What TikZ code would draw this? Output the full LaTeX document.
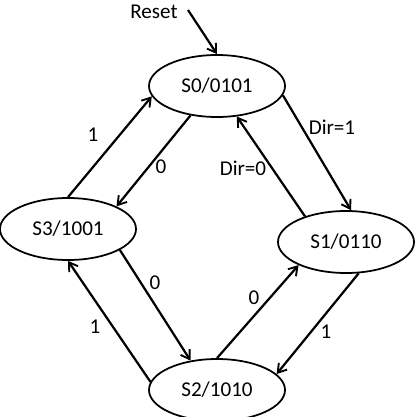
\documentclass[tikz,border=0pt]{standalone}
\usepackage{fontspec}
\setmainfont{Carlito}
\usetikzlibrary{shapes.geometric, arrows.meta, positioning}

\begin{document}
\begin{tikzpicture}[
    x=0.03cm, y=-0.03cm,
    font=\fontsize{18}{21}\selectfont,
    state/.style={ellipse, draw=black, line width=1.5pt, inner sep=0pt,
                  minimum width=4.08cm, minimum height=1.86cm},
    trans/.style={-{Straight Barb[length=2.5mm,width=3.2mm,line width=1.6pt]},
                  line width=1.9pt, draw=black},
    lbl/.style  ={inner sep=1pt},
  ]

  \useasboundingbox (0,0) rectangle (415,417);

  %% --- states -----------------------------------------------------------
  \node[state] (s0) at (217,86)  {S0/0101};
  \node[state] (s1) at (346,242) {S1/0110};
  \node[state] (s2) at (217,390) {S2/1010};
  \node[state] (s3) at (68,229)  {S3/1001};

  %% --- reset -------------------------------------------------------------
  \node[lbl] (reset) at (154,12) {Reset};
  \coordinate (rst) at (188,10);
  \draw[trans] (rst) -- (s0.90);

  %% --- transitions -------------------------------------------------------
  \draw[trans] (s3.90)  -- (s0.189);
  \draw[trans] (s0.228) -- (s3.25);
  \draw[trans] (s0.352) -- (s1.81);
  \draw[trans] (s1.148) -- (s0.303);
  \draw[trans] (s3.338) -- (s2.132);
  \draw[trans] (s2.173) -- (s3.270);
  \draw[trans] (s2.90)  -- (s1.206);
  \draw[trans] (s1.292) -- (s2.15);

  %% --- labels ------------------------------------------------------------
  \node[lbl] (l30) at (93,135)  {1};
  \node[lbl] (l03) at (161,167) {0};
  \node[lbl] (l01) at (332,127) {Dir=1};
  \node[lbl] (l10) at (243,168) {Dir=0};
  \node[lbl] (l32) at (155,283) {0};
  \node[lbl] (l23) at (95,327)  {1};
  \node[lbl] (l21) at (254,298) {0};
  \node[lbl] (l12) at (326,332) {1};

\end{tikzpicture}
\end{document}
